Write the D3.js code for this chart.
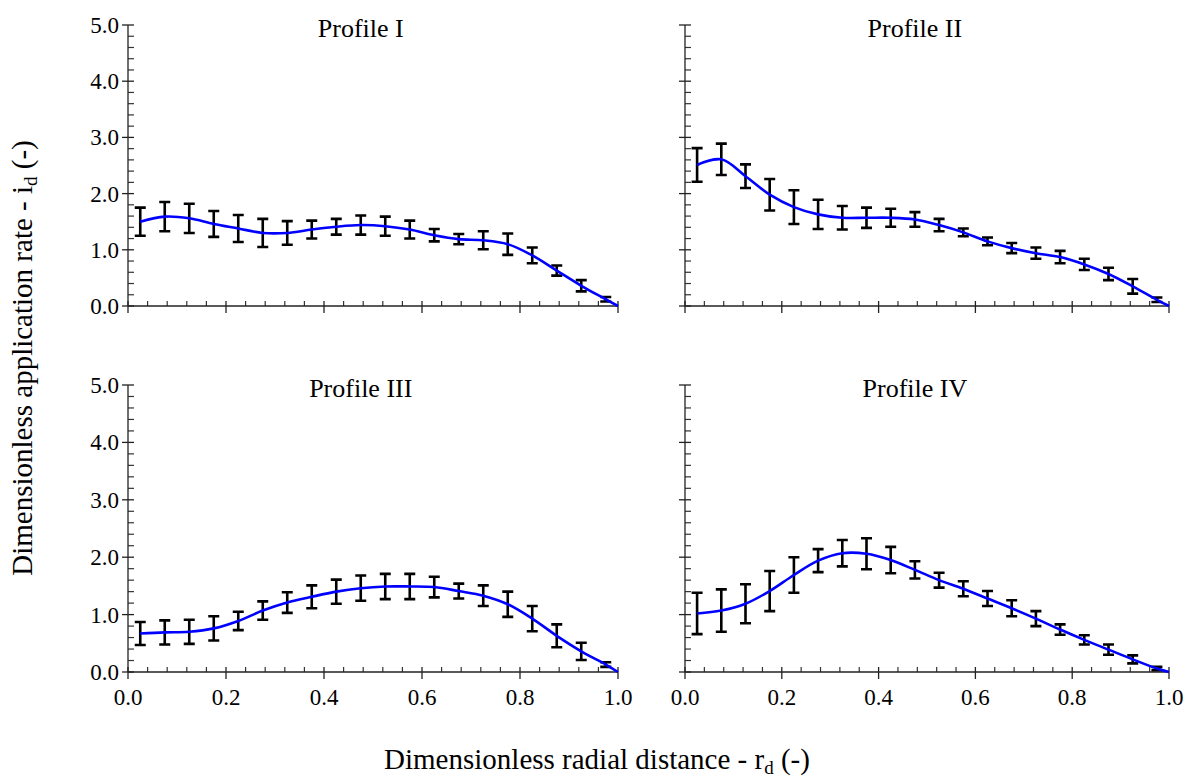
<!DOCTYPE html>
<html>
<head>
<meta charset="utf-8">
<script src="https://cdn.jsdelivr.net/npm/d3@7"></script>
<style>
  body { margin: 0; background: #fff; }
  svg text { font-family: "Liberation Serif", "Times New Roman", Times, "DejaVu Serif", serif; }
</style>
</head>
<body>
<svg id="chart"></svg>
<script>
// radial positions of the measurement rings
const rd = [0.025, 0.075, 0.125, 0.175, 0.225, 0.275, 0.325, 0.375, 0.425, 0.475,
            0.525, 0.575, 0.625, 0.675, 0.725, 0.775, 0.825, 0.875, 0.925, 0.975];

const profileNames = ["Profile I", "Profile II", "Profile III", "Profile IV"];

// mean application rate and error half-width per profile
const meanI  = [1.50, 1.59, 1.56, 1.46, 1.38, 1.30, 1.30, 1.36, 1.41, 1.44,
                1.42, 1.36, 1.26, 1.19, 1.17, 1.10, 0.90, 0.63, 0.36, 0.12];
const errI   = [0.25, 0.26, 0.26, 0.23, 0.24, 0.25, 0.21, 0.16, 0.14, 0.17,
                0.17, 0.16, 0.11, 0.09, 0.16, 0.19, 0.14, 0.09, 0.10, 0.04];

const meanII = [2.51, 2.61, 2.31, 1.98, 1.76, 1.63, 1.57, 1.57, 1.57, 1.54,
                1.44, 1.31, 1.15, 1.03, 0.94, 0.87, 0.74, 0.57, 0.35, 0.11];
const errII  = [0.30, 0.28, 0.21, 0.28, 0.30, 0.26, 0.21, 0.18, 0.16, 0.13,
                0.11, 0.07, 0.07, 0.09, 0.10, 0.11, 0.10, 0.11, 0.13, 0.04];

const meanIII = [0.67, 0.69, 0.70, 0.76, 0.89, 1.07, 1.21, 1.31, 1.40, 1.46,
                 1.49, 1.49, 1.48, 1.41, 1.33, 1.18, 0.93, 0.63, 0.36, 0.13];
const errIII  = [0.20, 0.21, 0.21, 0.21, 0.16, 0.16, 0.18, 0.20, 0.21, 0.22,
                 0.22, 0.22, 0.18, 0.13, 0.18, 0.22, 0.22, 0.20, 0.15, 0.04];

const meanIV = [1.02, 1.07, 1.19, 1.41, 1.69, 1.94, 2.07, 2.06, 1.95, 1.78,
                1.60, 1.45, 1.28, 1.11, 0.93, 0.74, 0.56, 0.39, 0.22, 0.06];
const errIV  = [0.36, 0.37, 0.34, 0.35, 0.31, 0.20, 0.23, 0.27, 0.23, 0.15,
                0.13, 0.13, 0.13, 0.14, 0.13, 0.09, 0.08, 0.09, 0.07, 0.03];

// the fitted line closes at the edge of the wetted radius
const edgeR = 1.0, edgeI = 0.0;

const xTicks = [0.0, 0.2, 0.4, 0.6, 0.8, 1.0];
const yTicks = [0.0, 1.0, 2.0, 3.0, 4.0, 5.0];

const width = 1192, height = 780;
const svg = d3.select("#chart").attr("width", width).attr("height", height);

const panels = [
  { name: profileNames[0], mean: meanI,   err: errI,   x0: 128, x1: 618,  y0: 306, y1: 25,  yLab: true,  xLab: false },
  { name: profileNames[1], mean: meanII,  err: errII,  x0: 685, x1: 1169, y0: 306, y1: 25,  yLab: false, xLab: false },
  { name: profileNames[2], mean: meanIII, err: errIII, x0: 128, x1: 618,  y0: 672, y1: 385, yLab: true,  xLab: true },
  { name: profileNames[3], mean: meanIV,  err: errIV,  x0: 685, x1: 1169, y0: 672, y1: 385, yLab: false, xLab: true }
];

panels.forEach(p => {
  const x = d3.scaleLinear().domain([0, 1]).range([p.x0, p.x1]);
  const y = d3.scaleLinear().domain([0, 5]).range([p.y0, p.y1]);
  const g = svg.append("g");

  // minor ticks (inside)
  const xMinor = d3.range(0, 1.0001, 0.04).filter(v => Math.abs(v * 5 - Math.round(v * 5)) > 1e-6);
  const yMinor = d3.range(0, 5.0001, 0.2).filter(v => Math.abs(v - Math.round(v)) > 1e-6);

  g.append("g").selectAll("line").data(xMinor).join("line")
    .attr("x1", d => x(d)).attr("x2", d => x(d))
    .attr("y1", p.y0).attr("y2", p.y0 - 5)
    .attr("stroke", "#333").attr("stroke-width", 1.2);
  g.append("g").selectAll("line").data(yMinor).join("line")
    .attr("y1", d => y(d)).attr("y2", d => y(d))
    .attr("x1", p.x0).attr("x2", p.x0 + 6)
    .attr("stroke", "#333").attr("stroke-width", 1.2);

  // major ticks (crossing)
  g.append("g").selectAll("line").data(xTicks).join("line")
    .attr("x1", d => x(d)).attr("x2", d => x(d))
    .attr("y1", p.y0 - 5).attr("y2", p.y0 + 7)
    .attr("stroke", "#222").attr("stroke-width", 1.3);
  g.append("g").selectAll("line").data(yTicks).join("line")
    .attr("y1", d => y(d)).attr("y2", d => y(d))
    .attr("x1", p.x0 - 6).attr("x2", p.x0 + 6)
    .attr("stroke", "#222").attr("stroke-width", 1.3);

  // axis lines
  g.append("line").attr("x1", p.x0).attr("x2", p.x1).attr("y1", p.y0).attr("y2", p.y0)
    .attr("stroke", "#222").attr("stroke-width", 1.3);
  g.append("line").attr("x1", p.x0).attr("x2", p.x0).attr("y1", p.y0).attr("y2", p.y1)
    .attr("stroke", "#222").attr("stroke-width", 1.3);

  if (p.yLab) {
    g.append("g").selectAll("text").data(yTicks).join("text")
      .attr("x", p.x0 - 9).attr("y", d => y(d)).attr("dy", "0.35em")
      .attr("text-anchor", "end").attr("font-size", 23)
      .text(d => d3.format(".1f")(d));
  }
  if (p.xLab) {
    g.append("g").selectAll("text").data(xTicks).join("text")
      .attr("x", d => x(d)).attr("y", p.y0 + 33)
      .attr("text-anchor", "middle").attr("font-size", 23)
      .text(d => d3.format(".1f")(d));
  }

  // title
  g.append("text").attr("x", p.x0 + 0.475 * (p.x1 - p.x0)).attr("y", p.y1 + 12)
    .attr("text-anchor", "middle").attr("font-size", 26)
    .text(p.name);

  // error bars
  const pts = rd.map((r, i) => ({ r: r, m: p.mean[i], e: p.err[i] }));
  const eb = g.append("g").attr("stroke", "#000").attr("stroke-width", 2.6).attr("fill", "none");
  eb.selectAll("path").data(pts).join("path")
    .attr("d", d => {
      const cx = x(d.r), t = y(d.m + d.e), b = y(d.m - d.e), w = 5.5;
      return `M${cx - w},${t}H${cx + w}M${cx},${t}V${b}M${cx - w},${b}H${cx + w}`;
    });

  // fitted line
  const line = d3.line().x(d => x(d.r)).y(d => y(d.m)).curve(d3.curveCatmullRom.alpha(0.5));
  g.append("path").datum(pts.concat([{ r: edgeR, m: edgeI }]))
    .attr("d", line).attr("fill", "none")
    .attr("stroke", "#0000ff").attr("stroke-width", 2.6);
});

// axis titles
const xt = svg.append("text").attr("x", 597).attr("y", 769)
  .attr("text-anchor", "middle").attr("font-size", 29);
xt.append("tspan").text("Dimensionless radial distance - r");
xt.append("tspan").attr("font-size", 19).attr("dy", 5).text("d");
xt.append("tspan").attr("dy", -5).text(" (-)");

const yt = svg.append("text").attr("transform", "translate(32,358) rotate(-90)")
  .attr("text-anchor", "middle").attr("font-size", 29);
yt.append("tspan").text("Dimensionless application rate - i");
yt.append("tspan").attr("font-size", 19).attr("dy", 5).text("d");
yt.append("tspan").attr("dy", -5).text(" (-)");
</script>
</body>
</html>
